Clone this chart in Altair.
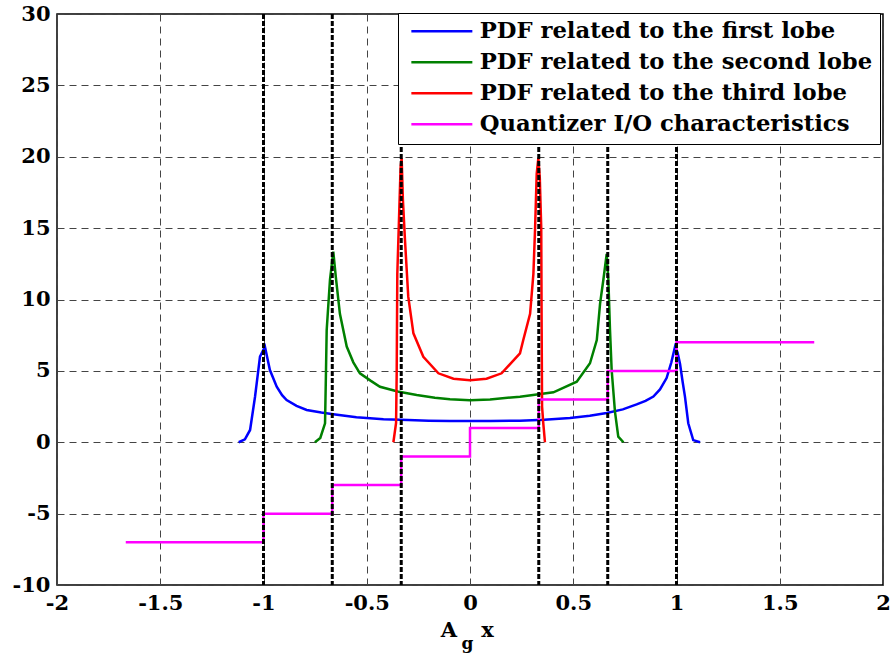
import altair as alt
import pandas as pd

# ---- data ----
blue_x = [-1.12, -1.09, -1.065, -1.041, -1.017, -0.993, -0.969, -0.936, -0.91, -0.888, -0.84, -0.791,
          -0.72, -0.662, -0.55, -0.419, -0.3, -0.2, -0.097, 0.0, 0.1, 0.242, 0.36, 0.484, 0.58, 0.662,
          0.74, 0.807, 0.85, 0.888, 0.92, 0.952, 0.975, 0.993, 1.005, 1.017, 1.03, 1.041, 1.057, 1.081, 1.114]
blue_y = [0.0, 0.2, 0.86, 3.19, 6.0, 6.69, 5.06, 3.89, 3.3, 2.96, 2.55, 2.26,
          2.08, 1.96, 1.75, 1.61, 1.55, 1.51, 1.49, 1.48, 1.49, 1.51, 1.58, 1.7, 1.85, 2.05,
          2.3, 2.65, 2.9, 3.2, 3.7, 4.5, 5.6, 6.7, 6.3, 5.5, 4.2, 3.2, 1.33, 0.15, 0.0]

green_x = [-0.751, -0.725, -0.702, -0.698, -0.694, -0.678, -0.662, -0.65, -0.63, -0.597, -0.565, -0.533,
           -0.48, -0.436, -0.35, -0.258, -0.17, -0.097, 0.0, 0.097, 0.242, 0.404, 0.517, 0.581, 0.614,
           0.63, 0.646, 0.662, 0.67, 0.678, 0.686, 0.702, 0.718, 0.743]
green_y = [0.0, 0.3, 1.33, 4.5, 7.86, 11.4, 13.35, 11.6, 9.0, 6.7, 5.6, 4.83,
           4.3, 3.89, 3.55, 3.31, 3.12, 3.01, 2.95, 3.0, 3.19, 3.5, 4.24, 5.53, 7.16,
           9.73, 11.4, 13.2, 11.4, 7.86, 5.06, 2.14, 0.39, 0.0]

red_x = [-0.371, -0.358, -0.355, -0.352, -0.342, -0.336, -0.331, -0.325, -0.315, -0.299, -0.274, -0.226,
         -0.153, -0.08, 0.0, 0.08, 0.153, 0.242, 0.258, 0.291, 0.307, 0.315, 0.323, 0.331, 0.338,
         0.345, 0.347, 0.349, 0.355, 0.363]
red_y = [0.0, 1.35, 4.85, 11.8, 16.5, 19.3, 19.9, 17.0, 14.2, 10.2, 7.63, 5.99,
         4.83, 4.45, 4.35, 4.45, 4.83, 6.23, 7.16, 9.0, 11.8, 14.9, 18.8, 19.9, 18.5,
         15.0, 8.0, 2.5, 1.3, 0.0]

quant_x = [-1.667, -1.0, -0.667, -0.333, 0.0, 0.333, 0.667, 1.0, 1.667]
quant_y = [-7, -5, -3, -1, 1, 3, 5, 7, 7]

thresholds = [-1.0, -0.667, -0.333, 0.333, 0.667, 1.0]

names = ["PDF related to the first lobe", "PDF related to the second lobe",
         "PDF related to the third lobe", "Quantizer I/O characteristics"]
colors = ["#0000ff", "#008000", "#ff0000", "#ff00ff"]

x_ticks = [-2, -1.5, -1, -0.5, 0, 0.5, 1, 1.5, 2]
y_ticks = [-10, -5, 0, 5, 10, 15, 20, 25, 30]

FONT = "DejaVu Serif"

xscale = alt.Scale(domain=[-2, 2], nice=False, zero=False)
yscale = alt.Scale(domain=[-10, 30], nice=False, zero=False)
cscale = alt.Scale(domain=names, range=colors)

xaxis = alt.Axis(values=x_ticks, title=None, grid=True, gridDash=[7, 5], gridColor="#444",
                 gridWidth=1, ticks=False, domain=False, labelFont=FONT, labelFontSize=21,
                 labelFontWeight="bold", labelColor="black", labelPadding=7,
                 labelFlush=False, labelOverlap=False, labelExpr="'' + datum.value")
yaxis = alt.Axis(values=y_ticks, title=None, grid=True, gridDash=[7, 5], gridColor="#444",
                 gridWidth=1, ticks=False, domain=False, labelFont=FONT, labelFontSize=21,
                 labelFontWeight="bold", labelColor="black", labelPadding=7, labelOverlap=False,
                 labelExpr="'' + datum.value")

legend = alt.Legend(title=None, orient="none", legendX=341, legendY=-1, direction="vertical",
                    symbolType="M-0.714,0H8.0", symbolSize=196, symbolStrokeWidth=2.5,
                    labelFont=FONT, labelFontWeight="bold", labelFontSize=22.7, labelColor="black",
                    labelLimit=700, labelOffset=52, padding=7, rowPadding=7,
                    strokeColor="black", fillColor="white", cornerRadius=0)

X = alt.X("x:Q", scale=xscale, axis=xaxis)
Y = alt.Y("y:Q", scale=yscale, axis=yaxis)

layers = []
series = [(blue_x, blue_y, names[0]), (green_x, green_y, names[1]), (red_x, red_y, names[2])]
for i, (xs, ys, nm) in enumerate(series):
    df = pd.DataFrame({"x": xs, "y": ys, "series": nm, "i": range(len(xs))})
    layers.append(
        alt.Chart(df).mark_line(strokeWidth=2.5, clip=True).encode(
            x=X, y=Y,
            color=alt.Color("series:N", scale=cscale, legend=legend),
            order="i:Q",
        )
    )

qdf = pd.DataFrame({"x": quant_x, "y": quant_y, "series": names[3], "i": range(len(quant_x))})
layers.append(
    alt.Chart(qdf).mark_line(strokeWidth=2.5, interpolate="step-after").encode(
        x=X, y=Y,
        color=alt.Color("series:N", scale=cscale, legend=legend),
        order="i:Q",
    )
)

tdf = pd.DataFrame({"x": thresholds})
layers.append(
    alt.Chart(tdf).mark_rule(color="black", strokeWidth=3, strokeDash=[5, 2]).encode(x=X)
)

# axis title A_g x (subscript g)
layers.append(alt.Chart(pd.DataFrame({"t": ["A"]})).mark_text(
    font=FONT, fontSize=21, fontWeight="bold", color="black", align="center", baseline="alphabetic"
).encode(text="t:N", x=alt.value(392), y=alt.value(622.7)))
layers.append(alt.Chart(pd.DataFrame({"t": ["g"]})).mark_text(
    font=FONT, fontSize=17, fontWeight="bold", color="black", align="center", baseline="alphabetic"
).encode(text="t:N", x=alt.value(410.5), y=alt.value(635)))
layers.append(alt.Chart(pd.DataFrame({"t": ["x"]})).mark_text(
    font=FONT, fontSize=21, fontWeight="bold", color="black", align="center", baseline="alphabetic"
).encode(text="t:N", x=alt.value(430.5), y=alt.value(622.7)))

chart = alt.layer(*layers).properties(
    width=826, height=571,
    padding={"left": 57, "top": 14, "right": 9, "bottom": 69},
    autosize=alt.AutoSizeParams(type="none"),
    background="white",
).configure_view(stroke="black", strokeWidth=1.5)

chart.save("out.html", embed_options={"renderer": "svg", "actions": False})
